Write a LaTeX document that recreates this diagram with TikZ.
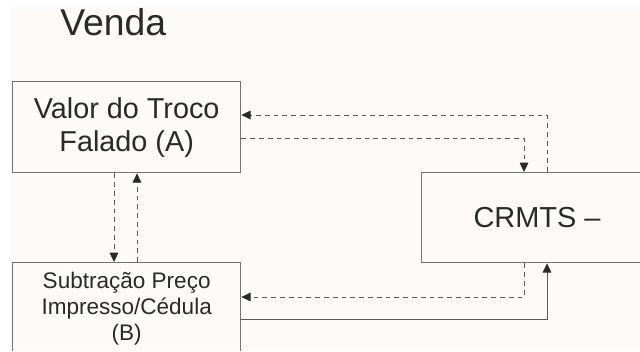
\documentclass[tikz,border=0pt]{standalone}
\usepackage{fontspec}
\setmainfont{Liberation Sans}
\usetikzlibrary{arrows.meta}
\definecolor{paper}{HTML}{FDFAF7}
\definecolor{ink}{HTML}{2A2A2A}
\definecolor{edgec}{HTML}{737373}
\definecolor{linec}{HTML}{5A5A5A}
\tikzset{
  x=0.75pt,y=-0.75pt,
  boxn/.style={draw=edgec,line width=1pt,fill=paper,inner sep=0pt,text=ink,align=center,anchor=north west},
  flow/.style={draw=linec,line width=0.75pt,-{Triangle[length=7pt,width=6.5pt,color=ink]}},
  dflow/.style={flow,dash pattern=on 3.6pt off 3pt},
}
\begin{document}
\begin{tikzpicture}
\useasboundingbox (0,0) rectangle (640,351);
\fill[white] (0,0) rectangle (640,351);
\begin{scope}
\clip (11,7) rectangle (640,350);
\fill[paper] (11,7) rectangle (640,350);
\node[anchor=base west,text=ink,font=\fontsize{28}{30}\selectfont,inner sep=0pt] (title) at (60,35) {Venda};
\node[boxn,minimum width=171pt,minimum height=68.25pt,font=\fontsize{21.6}{24.75}\selectfont] (A) at (12,81) {Valor do Troco\\Falado (A)};
\node[boxn,minimum width=171pt,minimum height=69pt,font=\fontsize{16.9}{19.5}\selectfont] (B) at (12,262) {Subtração Preço\\Impresso/Cédula\\(B)};
\node[boxn,minimum width=173pt,minimum height=67.5pt,font=\fontsize{21.7}{24}\selectfont] (C) at (421,172) {CRMTS --};
\coordinate (xa) at (114,0);
\coordinate (xb) at (137,0);
\coordinate (xc) at (524,0);
\coordinate (xd) at (547,0);
\coordinate (ya) at (0,115);
\coordinate (yb) at (0,138);
\coordinate (yc) at (0,297);
\coordinate (yd) at (0,319);
\draw[dflow] (C.north -| xd) -- (xd |- ya) -- (A.east |- ya);
\draw[dflow] (A.east |- yb) -- (xc |- yb) -- (C.north -| xc);
\draw[dflow] (A.south -| xa) -- (B.north -| xa);
\draw[dflow] (B.north -| xb) -- (A.south -| xb);
\draw[dflow] (C.south -| xc) -- (xc |- yc) -- (B.east |- yc);
\draw[flow] (B.east |- yd) -- (xd |- yd) -- (C.south -| xd);
\end{scope}
\end{tikzpicture}
\end{document}
